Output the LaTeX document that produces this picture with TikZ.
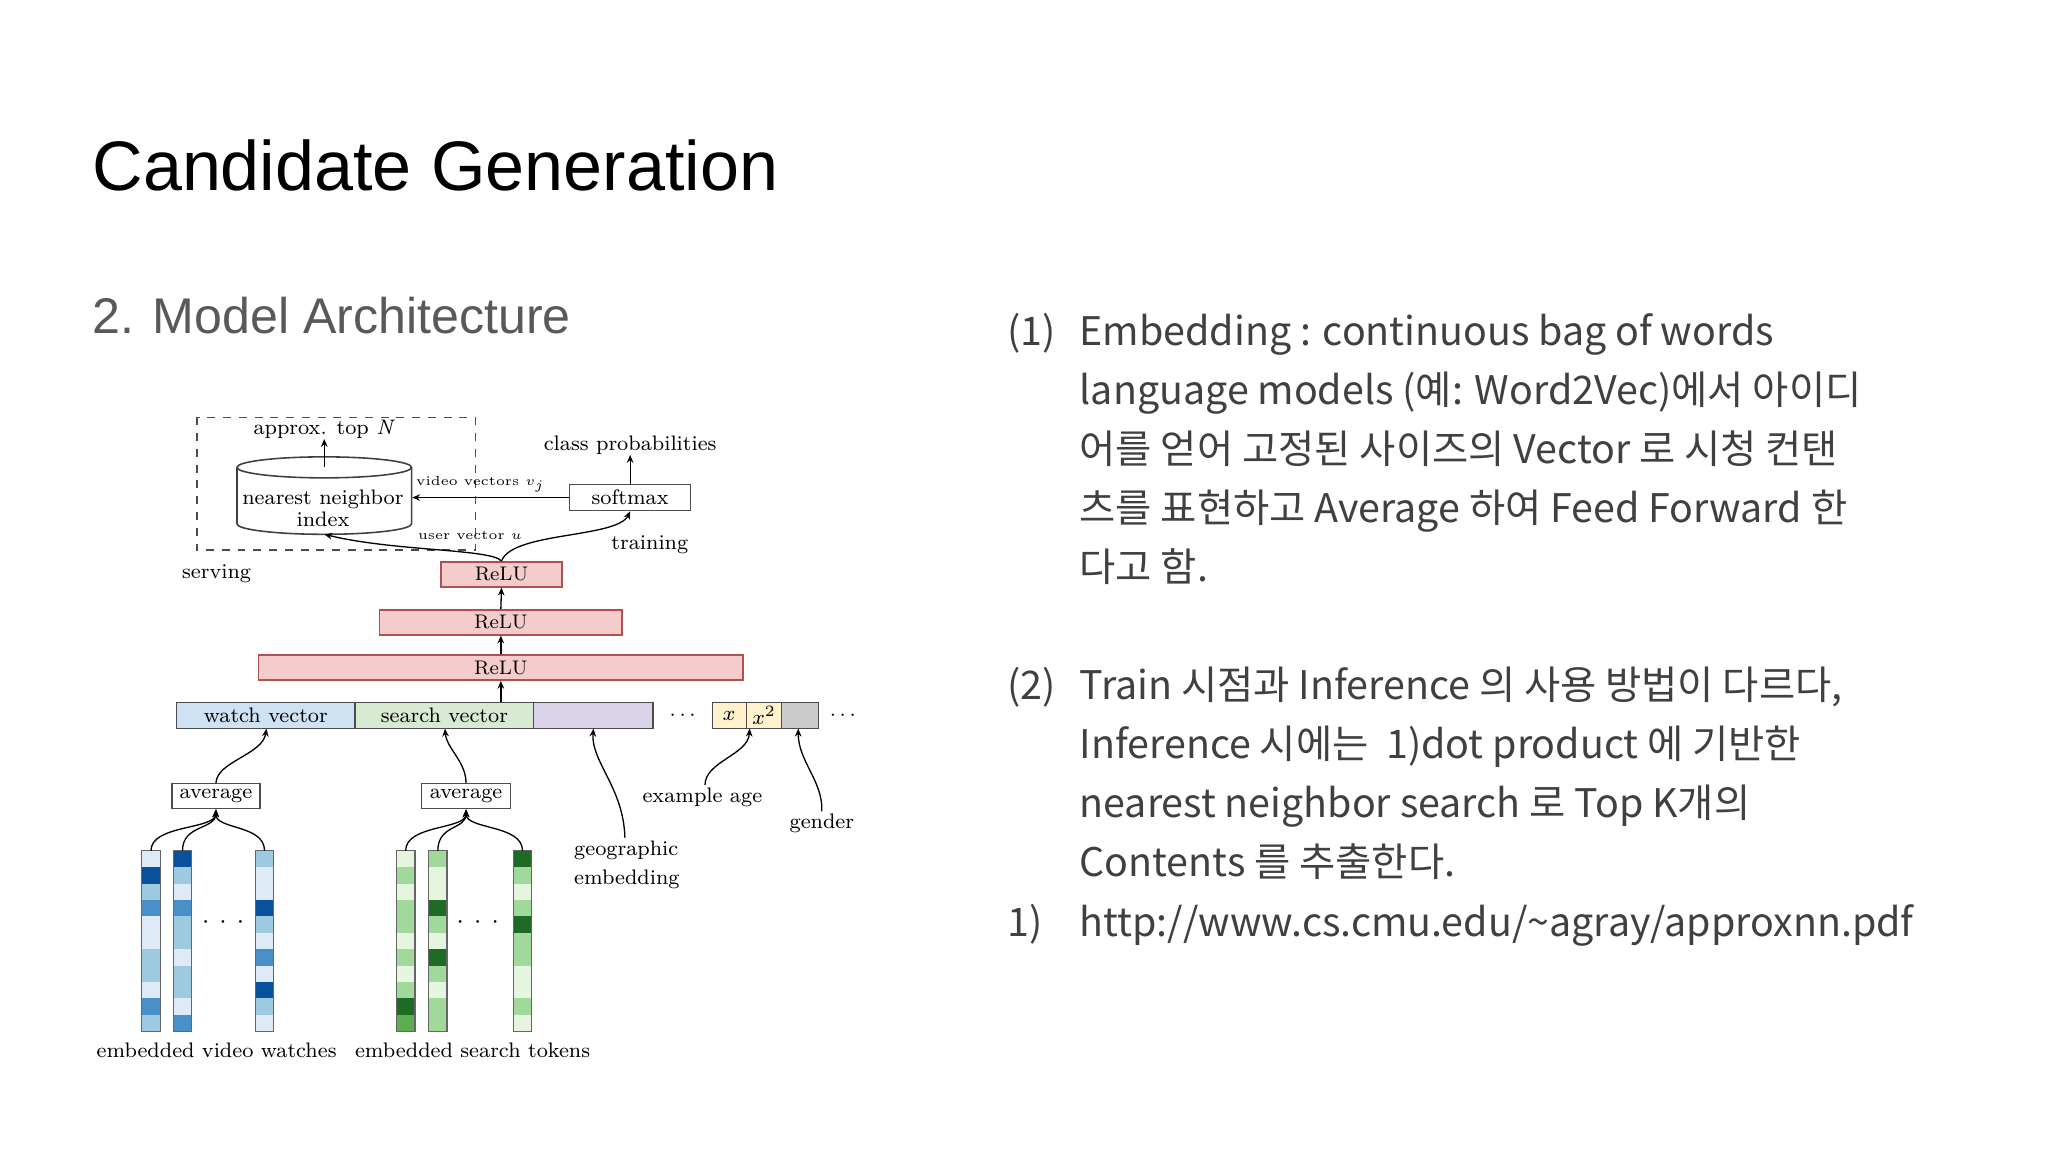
\documentclass[tikz,border=0pt]{standalone}
\usepackage{fontspec}
\usetikzlibrary{shapes.geometric,arrows.meta,calc}
\newfontfamily\titlef{Liberation Sans}
\newfontfamily\kr{Noto Sans CJK KR}
\definecolor{txt}{HTML}{404040}
\definecolor{sub}{HTML}{595959}
\definecolor{relu}{HTML}{F4CCCC}
\definecolor{reludraw}{HTML}{B05050}
\definecolor{wv}{HTML}{CFE2F3}
\definecolor{sv}{HTML}{D9EAD3}
\definecolor{pv}{HTML}{D9D2E9}
\definecolor{yv}{HTML}{FFF2CC}
\definecolor{gv}{HTML}{CCCCCC}
\definecolor{bA}{HTML}{DEEBF7}\definecolor{bB}{HTML}{9ECAE1}\definecolor{bC}{HTML}{4A90C8}\definecolor{bD}{HTML}{08519C}
\definecolor{gA}{HTML}{E5F5E0}\definecolor{gB}{HTML}{A1D99B}\definecolor{gC}{HTML}{5BAE4F}\definecolor{gD}{HTML}{1E6B26}
\begin{document}
\begin{tikzpicture}[x=0.5pt,y=-0.5pt,
  lab/.style={font=\fontsize{8}{9}\selectfont,inner sep=0pt},
  small/.style={font=\fontsize{5}{6}\selectfont,inner sep=0pt},
  box/.style={draw=black!70,line width=0.5pt,inner sep=0pt},
  relubox/.style={draw=reludraw,fill=relu,line width=0.6pt,font=\fontsize{7.5}{8}\selectfont,inner sep=0pt},
  arr/.style={-{Stealth[length=3pt,width=2.5pt]},line width=0.5pt},
  kt/.style={font=\kr\fontsize{15}{22.5}\selectfont,text=txt,anchor=base west,inner sep=0pt}]
\useasboundingbox (0,0) rectangle (1560,877.5);
% titles
\node[font=\titlef\fontsize{26.7}{30}\selectfont,anchor=base west,inner sep=0pt] (title) at (70,145) {Candidate Generation};
\node[font=\titlef\fontsize{19.1}{22}\selectfont,text=sub,anchor=base west,inner sep=0pt] (subt) at (70,254) {2. Model Architecture};
% right text
\node[kt] (n1) at (767,263) {(1)};
\node[kt] (l1) at (822,263) {Embedding : continuous bag of words};
\node[kt] (l2) at (822,308) {language models (예: Word2Vec)에서 아이디};
\node[kt] (l3) at (822,353) {어를 얻어 고정된 사이즈의 Vector 로 시청 컨탠};
\node[kt] (l4) at (822,398) {츠를 표현하고 Average 하여 Feed Forward 한};
\node[kt] (l5) at (822,443) {다고 함.};
\node[kt] (n2) at (767,533) {(2)};
\node[kt] (m1) at (822,533) {Train 시점과 Inference 의 사용 방법이 다르다,};
\node[kt] (m2) at (822,578) {Inference 시에는\ \ 1)dot product 에 기반한};
\node[kt] (m3) at (822,623) {nearest neighbor search 로 Top K개의};
\node[kt] (m4) at (822,668) {Contents 를 추출한다.};
\node[kt] (n3) at (767,713) {1)};
\node[kt] (m5) at (822,713) {http://www.cs.cmu.edu/\textasciitilde agray/approxnn.pdf};
% serving box
\draw[dashed,line width=0.5pt,black!70] (150,318) rectangle (362,419);
\node[lab] (top) at (247,327) {approx. top \textit{N}};
% cylinder drawn directly
\draw[line width=0.6pt,black!75] (247,356) ellipse [x radius=66.5, y radius=8];
\draw[line width=0.6pt,black!75] (180.5,356) -- (180.5,399) arc[start angle=180,end angle=360,x radius=66.5,y radius=-8] -- (313.5,356);
\node[lab,align=center,font=\fontsize{8}{8.5}\selectfont] (cyltxt) at (246,387) {nearest neighbor\\index};
\coordinate (cyltop) at (247,356);
\coordinate (cylbot) at (247,407);
\draw[arr] (cyltop) -- (top.south);
\node[lab] (cp) at (480,339) {class probabilities};
\node[box,minimum width=46pt,minimum height=10pt,lab] (soft) at (480,379) {softmax};
\draw[arr] (soft.north) -- (cp.south);
\coordinate (cylright) at (314,379);
\draw[arr] (soft.west) -- (cylright);
\node[small] (vv) at (366,369) {video vectors $v_j$};
\node[small] (uv) at (358,408) {user vector $u$};
\node[lab] (tr) at (495,415) {training};
\node[lab] (sv) at (165,437) {serving};
% ReLUs
\node[relubox,minimum width=46pt,minimum height=9.5pt] (r1) at (382,437.5) {ReLU};
\node[relubox,minimum width=92.5pt,minimum height=9.5pt] (r2) at (381.5,474) {ReLU};
\node[relubox,minimum width=184.5pt,minimum height=9.5pt] (r3) at (381.5,508.5) {ReLU};
\draw[arr] (r2.north) -- (r1.south);
\draw[arr] (r3.north) -- (r2.south);
\draw[arr] (r1.north) .. controls (375,418) and (300,420) .. (cylbot);
\draw[arr] (r1.north) .. controls (390,405) and (470,410) .. (soft.south);
% bar
\node[box,fill=wv,minimum width=68pt,minimum height=10pt,lab,anchor=west] (wvec) at (134,545) {watch vector};
\node[box,fill=sv,minimum width=68pt,minimum height=10pt,lab,anchor=west] (svec) at (270,545) {search vector};
\node[box,fill=pv,minimum width=45.5pt,minimum height=10pt,anchor=west] (pvec) at (406,545) {};
\node[lab] (d1) at (520,545) {$\cdots$};
\node[box,fill=yv,minimum width=13pt,minimum height=10pt,lab,anchor=west] (xa) at (542,545) {$x$};
\node[box,fill=yv,minimum width=13.5pt,minimum height=10pt,lab,anchor=west] (xb) at (568,545) {$x^2$};
\node[box,fill=gv,minimum width=14pt,minimum height=10pt,anchor=west] (gvec) at (595,545) {};
\node[lab] (d2) at (642,545) {$\cdots$};
\draw[arr] (r3.south |- svec.north) -- (r3.south);
% averages
\node[box,lab,minimum width=33.5pt,minimum height=9.5pt] (av1) at (164.5,606.5) {average};
\node[box,lab,minimum width=34pt,minimum height=9.5pt] (av2) at (355,606.5) {average};
\draw[arr] (av1.north) .. controls (165,580) and (200,575) .. (203,555);
\draw[arr] (av2.north) .. controls (355,580) and (340,570) .. (339,555);
% side labels
\node[lab,align=left,anchor=north west] (geo) at (437,640) {geographic\\[2pt]embedding};
\node[lab] (age) at (535,607) {example age};
\node[lab] (gen) at (626,627) {gender};
\coordinate (geoc) at (476,638);
\coordinate (agec) at (537,598);
\coordinate (genc) at (626,618);
\draw[arr] (geoc) .. controls (475,600) and (450,580) .. (452,555);
\draw[arr] (agec) .. controls (537,580) and (570,575) .. (571,555);
\draw[arr] (genc) .. controls (627,595) and (608,580) .. (608,555);
% columns
\newcommand{\mycol}[4]{%
  \foreach \c [count=\i from 0] in {#3} {
    \fill[#2\c] (#1,648+\i*12.5) rectangle (#1+14,648+\i*12.5+12.5);
  }
  \draw[line width=0.5pt,black!60] (#1,648) rectangle (#1+14,785.5);
  \coordinate (#4) at (#1+7,648);
}
\mycol{108}{b}{A,D,B,C,A,A,B,B,A,C,B}{c1}
\mycol{132}{b}{D,B,A,C,B,B,A,B,B,A,C}{c2}
\mycol{194.5}{b}{B,A,A,D,B,A,C,A,D,B,A}{c3}
\mycol{302}{g}{A,B,A,B,B,A,B,A,B,D,C}{c4}
\mycol{326.5}{g}{B,A,A,D,B,A,D,B,A,B,B}{c5}
\mycol{391}{g}{D,B,A,B,D,B,B,A,A,B,A}{c6}
\node[font=\fontsize{10}{10}\selectfont] (dt1) at (170,703) {$\cdot\,\cdot\,\cdot$};
\node[font=\fontsize{10}{10}\selectfont] (dt2) at (364,703) {$\cdot\,\cdot\,\cdot$};
\foreach \c in {c1,c2,c3} \draw[arr] (\c) .. controls ($(\c)+(0,-20)$) and (164,632) .. (av1.south);
\foreach \c in {c4,c5,c6} \draw[arr] (\c) .. controls ($(\c)+(0,-20)$) and (355,632) .. (av2.south);
\node[lab] (ev) at (165,800) {embedded video watches};
\node[lab] (es) at (360,800) {embedded search tokens};
\end{tikzpicture}
\end{document}
